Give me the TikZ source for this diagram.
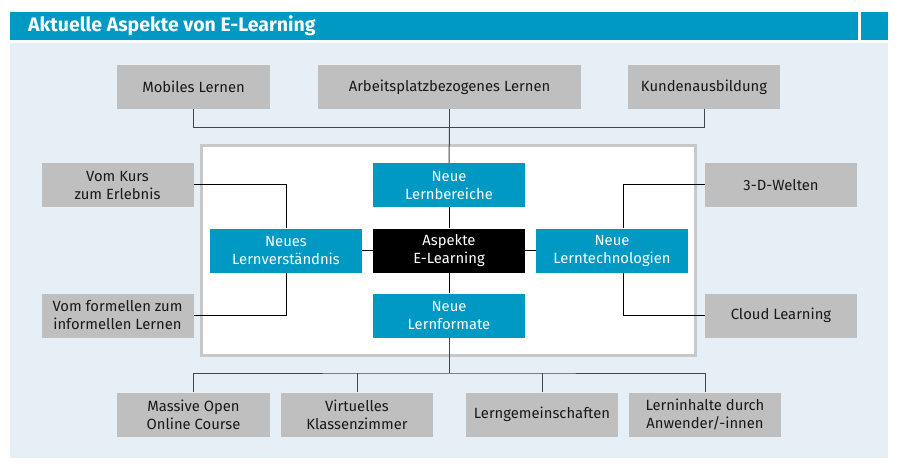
\documentclass[tikz,border=0pt]{standalone}
\usepackage{fontspec}
\setmainfont{Fira Sans}
\definecolor{hdblue}{RGB}{0,153,196}
\definecolor{panel}{RGB}{230,238,246}
\definecolor{gbox}{RGB}{192,191,191}
\definecolor{frame}{RGB}{200,200,200}
\definecolor{lineg}{RGB}{70,70,70}
\begin{document}
\begin{tikzpicture}[x=1pt,y=-1pt,
  base/.style={inner sep=0pt,align=center,minimum width=152pt,minimum height=44pt,font=\fontsize{14.8}{18}\selectfont},
  graybox/.style={base,fill=gbox,text=black!90},
  bluebox/.style={base,fill=hdblue,text=white},
  blackbox/.style={base,fill=black,text=white},
  conn/.style={draw=lineg,line width=1pt},
  connin/.style={draw=black,line width=1pt}]
\path[use as bounding box] (0,0) rectangle (900,468);
% header
\fill[hdblue] (10,12) rectangle (858,40);
\fill[hdblue] (861,12) rectangle (888,40);
\node[anchor=west,text=white,font=\fontsize{19.5}{22}\bfseries\selectfont,inner sep=0pt] (title) at (28,26) {Aktuelle Aspekte von E-Learning};
% panel
\fill[panel] (10,43) rectangle (888,458);
% white frame
\draw[frame,line width=3pt,fill=white] (201.5,145.5) rectangle (695.5,355.5);
% top boxes
\node[graybox,minimum width=153pt] (mob) at (193.5,87) {Mobiles Lernen};
\node[graybox,minimum width=263pt] (arb) at (449.5,87) {Arbeitsplatzbezogenes Lernen};
\node[graybox,minimum width=152pt] (kun) at (704,87) {Kundenausbildung};
% inner boxes
\node[bluebox] (lb) at (449,185) {Neue\\Lernbereiche};
\node[blackbox] (asp) at (449,250.5) {Aspekte\\E-Learning};
\node[bluebox] (lt) at (612,250.5) {Neue\\Lerntechnologien};
\node[bluebox] (lv) at (286,250.5) {Neues\\Lernverständnis};
\node[bluebox] (lf) at (449,315.5) {Neue\\Lernformate};
% side boxes
\node[graybox,minimum width=152pt] (kurs) at (117.5,185) {Vom Kurs\\zum Erlebnis};
\node[graybox,minimum width=152pt] (form) at (117.5,315.5) {Vom formellen zum\\informellen Lernen};
\node[graybox,minimum width=152pt] (welt) at (781,185) {3-D-Welten};
\node[graybox,minimum width=152pt] (cloud) at (781,315.5) {Cloud Learning};
% bottom boxes
\node[graybox,minimum width=153pt] (mooc) at (193.5,414.5) {Massive Open\\Online Course};
\node[graybox,minimum width=152pt] (vk) at (357,414.5) {Virtuelles\\Klassenzimmer};
\node[graybox,minimum width=152pt] (lg) at (542,414.5) {Lerngemeinschaften};
\node[graybox,minimum width=152pt] (li) at (705,414.5) {Lerninhalte durch\\Anwender/-innen};
% connectors top
\draw[conn] (mob.south) -- ++(0,18) coordinate (tl) -| (kun.south);
\draw[conn] (arb.south) -- (arb.south |- tl);
\draw[conn] (arb.south |- tl) -- (lb.north);
% centre
\draw[connin] (lb.south) -- (asp.north);
\draw[connin] (asp.south) -- (lf.north);
\draw[connin] (asp.west) -- (lv.east);
\draw[connin] (asp.east) -- (lt.east -| lt.west);
% left
\draw[connin] (kurs.east) -| (lv.north);
\draw[connin] (form.east) -| (lv.south);
% right
\coordinate (rx) at (623,250);
\draw[connin] (welt.west) -| (rx |- lt.north);
\draw[connin] (cloud.west) -| (rx |- lt.south);
% bottom
\coordinate (bl) at (0,373);
\draw[conn] (lf.south) -- (lf.south |- bl);
\draw[conn] (mooc.north) |- (lf.south |- bl) -| (li.north);
\draw[conn] (vk.north) -- (vk.north |- bl);
\draw[conn] (lg.north) -- (lg.north |- bl);
\end{tikzpicture}
\end{document}
